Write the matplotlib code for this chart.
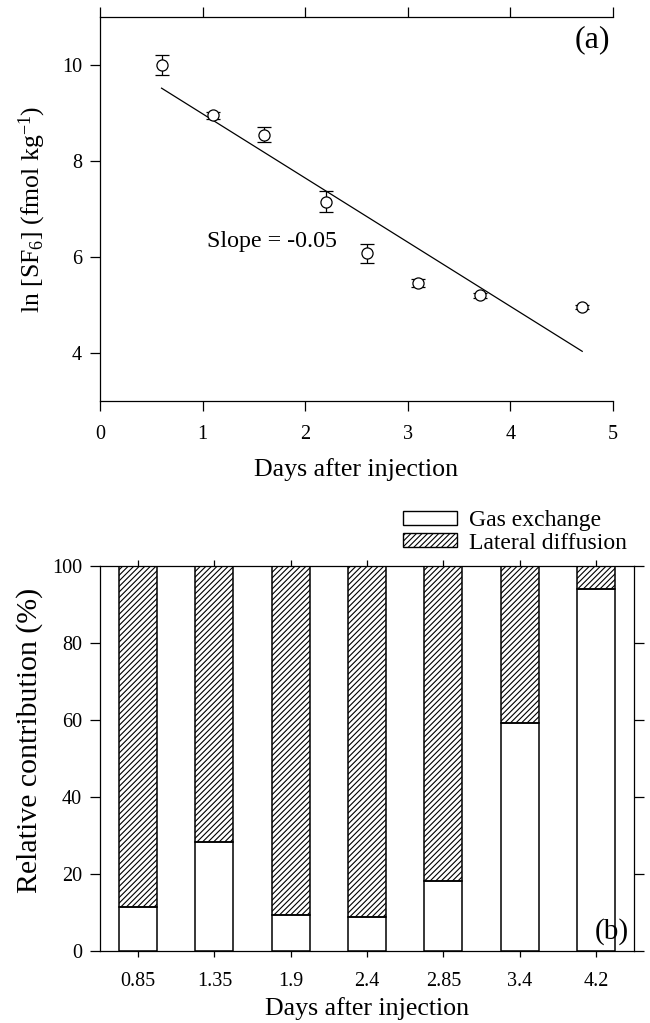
import matplotlib
matplotlib.use("Agg")
import matplotlib.pyplot as plt
import numpy as np
from matplotlib.patches import Patch

plt.rcParams['font.family'] = ['Liberation Serif', 'DejaVu Serif']
plt.rcParams['mathtext.fontset'] = 'custom'
plt.rcParams['mathtext.rm'] = 'Liberation Serif'
plt.rcParams['mathtext.it'] = 'Liberation Serif:italic'
plt.rcParams['mathtext.default'] = 'rm'
plt.rcParams['hatch.linewidth'] = 0.8

# ---- panel (a) data ----
days_a = [0.6, 1.1, 1.6, 2.2, 2.6, 3.1, 3.7, 4.7]
ln_sf6 = [10.0, 8.95, 8.55, 7.15, 6.08, 5.46, 5.20, 4.96]
ln_err = [0.21, 0.08, 0.15, 0.22, 0.20, 0.08, 0.06, 0.05]
slope_label = "Slope = -0.05"

# ---- panel (b) data ----
days_b = ["0.85", "1.35", "1.9", "2.4", "2.85", "3.4", "4.2"]
gas_exchange = [11.3, 28.2, 9.4, 8.8, 18.2, 59.1, 94.0]
lateral_diffusion = [100 - g for g in gas_exchange]

fig = plt.figure(figsize=(6.5, 10.23), dpi=100)
W, H = 650, 1023

def ax_rect(l, r, t, b):
    return [l / W, 1 - b / H, (r - l) / W, (b - t) / H]

TICK = 14.5
LAB = 18.6

# ---------------- panel (a) ----------------
A_T, A_B = 17, 401
ax1 = fig.add_axes(ax_rect(100, 613, A_T, A_B))
ax1.errorbar(days_a, ln_sf6, yerr=ln_err, fmt='o', mfc='white', mec='black',
             ms=8, mew=0.9, ecolor='black', elinewidth=0.9, capsize=5,
             capthick=0.9, color='black', zorder=3)
coef = np.polyfit(days_a, ln_sf6, 1)
fx = np.array([days_a[0], days_a[-1]])
ax1.plot(fx, np.polyval(coef, fx), color='black', lw=0.9, zorder=2)
ax1.set_xlim(0, 5)
ax1.set_ylim(3, 11)
ax1.set_xticks([0, 1, 2, 3, 4, 5])
ax1.set_yticks([4, 6, 8, 10])
ax1.spines['right'].set_visible(False)
for s in ['left', 'top', 'bottom']:
    ax1.spines[s].set_linewidth(0.9)
ax1.tick_params(axis='both', direction='out', length=7, width=0.9,
                labelsize=TICK, pad=6)
ax1.tick_params(axis='x', top=True, pad=10)
ax1.set_xlabel("Days after injection", fontsize=LAB, va='baseline')
ax1.xaxis.set_label_coords(0.5, (A_B - 476) / (A_B - A_T))
ax1.set_ylabel("ln [SF$_6$] (fmol kg$^{-1}$)", fontsize=18.5, va='center')
ax1.yaxis.set_label_coords((32 - 100) / 513, 0.5)
ax1.text(1.04, 6.32, slope_label, fontsize=17.3, va='center', ha='left')
ax1.text(0.995, 1 - (40 - A_T) / (A_B - A_T), "(a)", transform=ax1.transAxes,
         fontsize=23, ha='right', va='center')

# ---------------- panel (b) ----------------
B_T, B_B = 566, 951
ax2 = fig.add_axes(ax_rect(100, 634, B_T, B_B))
x = np.arange(len(days_b))
bw = 0.5
# fills
ax2.bar(x, gas_exchange, bw, color='white', edgecolor='none', zorder=1)
ax2.bar(x, lateral_diffusion, bw, bottom=gas_exchange, color='white',
        edgecolor='black', hatch='//////', linewidth=0, zorder=1)
ax2.text(0.99, (B_B - 932) / (B_B - B_T), "(b)", transform=ax2.transAxes,
         fontsize=21, ha='right', va='center', zorder=2)
# outlines
ax2.bar(x, gas_exchange, bw, fill=False, edgecolor='black',
        linewidth=1.1, zorder=3)
ax2.bar(x, lateral_diffusion, bw, bottom=gas_exchange, fill=False,
        edgecolor='black', linewidth=1.1, zorder=3)
ax2.set_xlim(-0.5, 6.5)
ax2.set_ylim(0, 100)
ax2.set_xticks(x)
ax2.set_xticklabels(days_b)
ax2.set_yticks([0, 20, 40, 60, 80, 100])
for s in ax2.spines.values():
    s.set_linewidth(0.9)
ax2.tick_params(axis='y', direction='out', length=7, width=0.9,
                labelsize=TICK, pad=6, right=True, labelright=False)
ax2.tick_params(axis='x', direction='out', length=4, width=0.9,
                labelsize=TICK, pad=11, top=True)
ax2.set_xlabel("Days after injection", fontsize=LAB, va='baseline')
ax2.xaxis.set_label_coords(0.5, (B_B - 1015) / (B_B - B_T))
ax2.set_ylabel("Relative contribution (%)", fontsize=21.5, va='center')
ax2.yaxis.set_label_coords((30 - 100) / 534, (B_B - 740) / (B_B - B_T))

handles = [Patch(facecolor='white', edgecolor='black', linewidth=1.0),
           Patch(facecolor='white', edgecolor='black', linewidth=1.0,
                 hatch='//////')]
fig.legend(handles, ["Gas exchange", "Lateral diffusion"], loc='center left',
           bbox_to_anchor=(403 / W, 1 - 532 / H), frameon=False,
           fontsize=17, handlelength=2.3, handleheight=0.5,
           handletextpad=0.5, labelspacing=0.05, borderpad=0,
           borderaxespad=0)

fig.savefig("out.png", dpi=100)
